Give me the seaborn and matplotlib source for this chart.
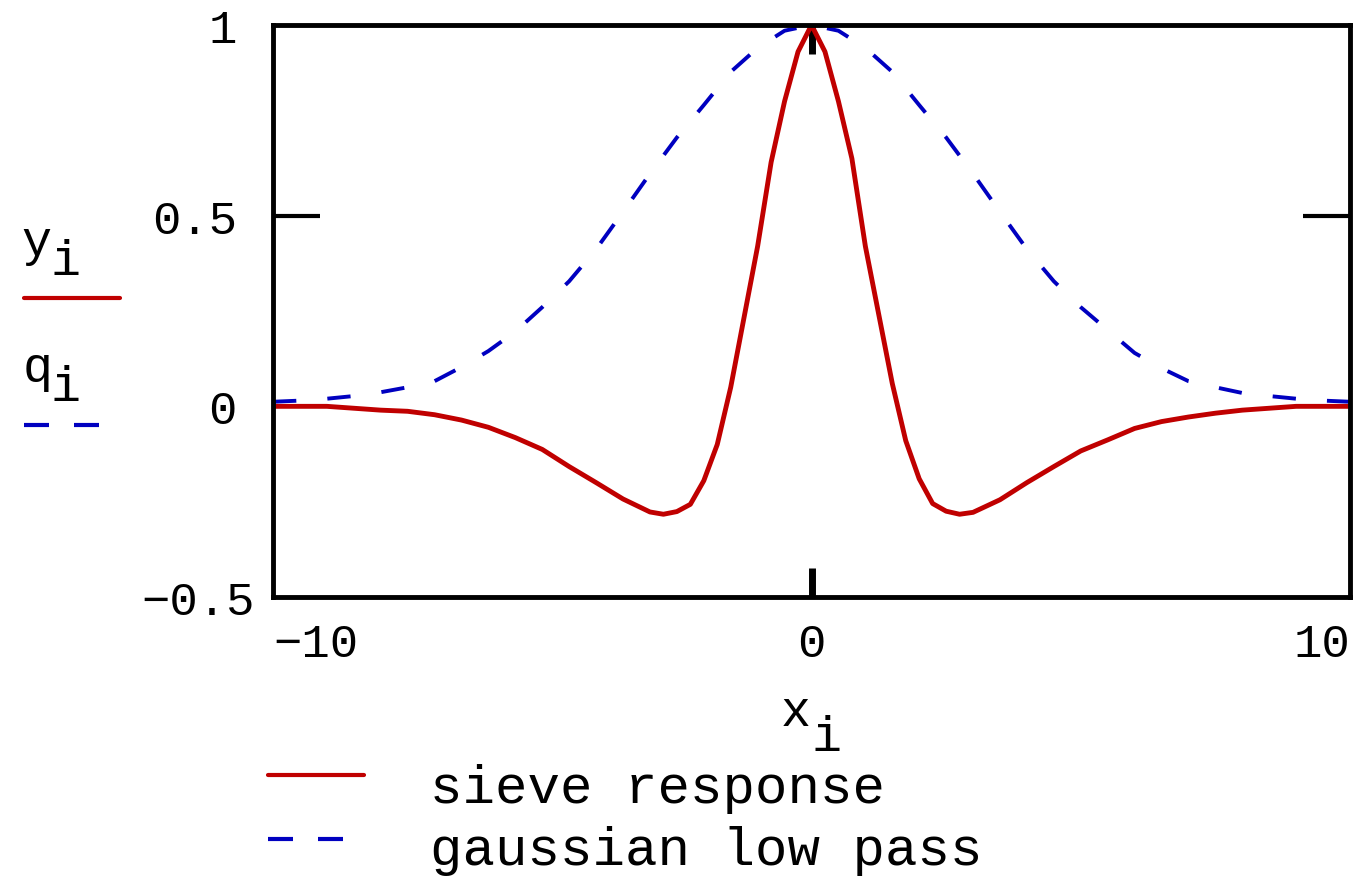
import matplotlib
matplotlib.use("Agg")
import matplotlib.pyplot as plt
import matplotlib.transforms as mtransforms
from matplotlib.lines import Line2D
import pandas as pd
import seaborn as sns

# sieve response samples
x_sieve = [-10, -9, -8.5, -8, -7.5, -7, -6.5, -6, -5.5, -5, -4.5, -4, -3.5, -3,
           -2.75, -2.5, -2.25, -2, -1.75, -1.5, -1.25, -1, -0.75, -0.5, -0.25, 0,
           0.25, 0.5, 0.75, 1, 1.25, 1.5, 1.75, 2, 2.25, 2.5, 2.75, 3, 3.5, 4,
           4.5, 5, 5.5, 6, 6.5, 7, 7.5, 8, 8.5, 9, 10]
y_sieve = [0.0, 0.0, -0.005, -0.01, -0.013, -0.022, -0.036, -0.055, -0.082, -0.113,
           -0.158, -0.2, -0.243, -0.277, -0.283, -0.276, -0.257, -0.195, -0.1, 0.05,
           0.235, 0.42, 0.64, 0.8, 0.93, 1.0,
           0.93, 0.8, 0.65, 0.42, 0.24, 0.06, -0.09, -0.19, -0.255, -0.275,
           -0.283, -0.278, -0.245, -0.2, -0.158, -0.117, -0.088, -0.058, -0.04,
           -0.028, -0.018, -0.01, -0.005, 0.0, 0.0]

# gaussian low pass samples
x_gauss = [-10, -9.5, -9, -8.5, -8, -7.5, -7, -6.5, -6, -5.5, -5, -4.5, -4, -3.5,
           -3, -2.5, -2, -1.5, -1, -0.5, 0, 0.5, 1, 1.5, 2, 2.5, 3, 3.5, 4, 4.5,
           5, 5.5, 6, 6.5, 7, 7.5, 8, 8.5, 9, 9.5, 10]
y_gauss = [0.012, 0.015, 0.02, 0.027, 0.037, 0.05, 0.066, 0.103, 0.145, 0.196,
           0.26, 0.328, 0.412, 0.51, 0.61, 0.705, 0.79, 0.877, 0.94, 0.985, 1.0,
           0.985, 0.94, 0.877, 0.79, 0.705, 0.61, 0.51, 0.412, 0.328, 0.26,
           0.2, 0.14, 0.1, 0.066, 0.05, 0.035, 0.027, 0.02, 0.015, 0.012]

series_names = ["sieve response", "gaussian low pass"]
x_ticks = [-10, 0, 10]
x_tick_labels = ["\u221210", "0", "10"]
y_ticks = [-0.5, 0, 0.5, 1]
y_tick_labels = ["\u22120.5", "0", "0.5", "1"]

RED = "#c00000"
BLUE = "#0000c0"

df = pd.concat([
    pd.DataFrame({"x": x_sieve, "y": y_sieve, "series": series_names[0]}),
    pd.DataFrame({"x": x_gauss, "y": y_gauss, "series": series_names[1]}),
], ignore_index=True)

sns.set_theme(style="white")
plt.rcParams["font.family"] = ["Liberation Mono", "DejaVu Sans Mono"]
plt.rcParams["text.color"] = "black"

W, H = 1361, 879
fig = plt.figure(figsize=(W / 100, H / 100), dpi=100)
ax = fig.add_axes([273 / W, 1 - 598 / H, (1350 - 273) / W, (598 - 26) / H])


def px(x, y):
    # pixel position -> figure fraction
    return x / W, 1 - y / H


sns.lineplot(data=df, x="x", y="y", hue="series", style="series",
             palette={series_names[0]: RED, series_names[1]: BLUE},
             dashes={series_names[0]: "", series_names[1]: (6, 8)},
             linewidth=3.5, estimator=None, sort=False, legend=False, ax=ax)
# the dashed trace is a bit thinner in the original
ax.lines[1].set_linewidth(2.8)

ax.set_xlim(-10, 10)
ax.set_ylim(-0.5, 1)
ax.set_xlabel("")
ax.set_ylabel("")
for s in ax.spines.values():
    s.set_color("black")
    s.set_linewidth(3.5)

ax.set_xticks(x_ticks, x_tick_labels)
ax.set_yticks(y_ticks, y_tick_labels)
ax.tick_params(axis="both", which="major", length=0, labelsize=34, colors="black")
ax.tick_params(axis="y", which="major", pad=26)
ax.tick_params(axis="x", which="major", pad=18)
for lab, ha in zip(ax.get_xticklabels(), ["left", "center", "right"]):
    lab.set_ha(ha)
# mathcad puts the -0.5 a bit to the right
lab = ax.get_yticklabels()[0]
lab.set_transform(lab.get_transform() + mtransforms.ScaledTranslation(0.18, 0, fig.dpi_scale_trans))

# interior tick marks (minor ticks sitting on major positions)
ax.xaxis.remove_overlapping_locs = False
ax.yaxis.remove_overlapping_locs = False
ax.set_yticks([0.5], minor=True)
ax.set_xticks([0], minor=True)
ax.tick_params(axis="y", which="minor", direction="in", left=True, right=True,
               length=34, width=3, color="black")
ax.tick_params(axis="x", which="minor", direction="in", bottom=True, top=True,
               length=21, width=5, color="black")

# axis labels with subscripts and trace keys
fs = 36
fig.text(*px(36, 243), "y", ha="center", va="center", fontsize=fs)
fig.text(*px(66, 262), "i", ha="center", va="center", fontsize=fs)
fig.add_artist(Line2D([24 / W, 120 / W], [1 - 299 / H] * 2, color=RED, lw=3))
fig.text(*px(38, 369), "q", ha="center", va="center", fontsize=fs)
fig.text(*px(66, 388), "i", ha="center", va="center", fontsize=fs)
fig.add_artist(Line2D([24 / W, 101 / W], [1 - 426 / H] * 2, color=BLUE, lw=3, dashes=(6, 6)))

fig.text(*px(796, 713), "x", ha="center", va="center", fontsize=fs)
fig.text(*px(826, 738), "i", ha="center", va="center", fontsize=fs)

# legend below
fig.add_artist(Line2D([268 / W, 364 / W], [1 - 776 / H] * 2, color=RED, lw=3))
fig.add_artist(Line2D([268 / W, 345 / W], [1 - 840 / H] * 2, color=BLUE, lw=3, dashes=(6, 6)))
fig.text(*px(430, 803), series_names[0], ha="left", va="baseline", fontsize=39)
fig.text(*px(430, 865), series_names[1], ha="left", va="baseline", fontsize=39)

fig.savefig("out.png", dpi=100)
